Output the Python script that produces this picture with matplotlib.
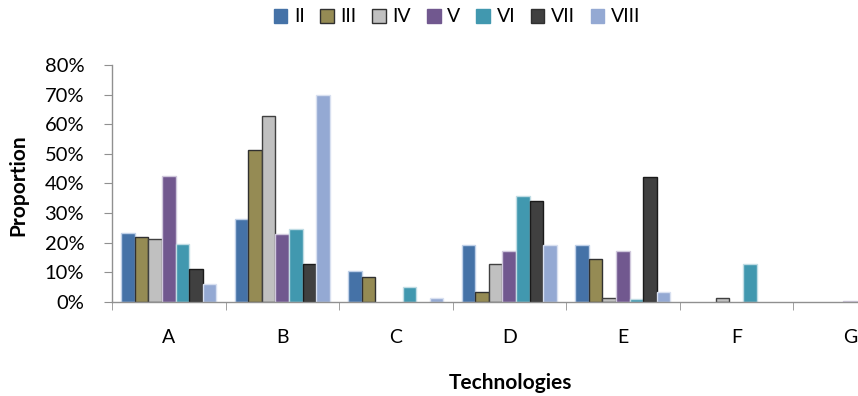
import matplotlib
matplotlib.use("Agg")
import matplotlib.pyplot as plt
import numpy as np
from matplotlib.ticker import PercentFormatter
from matplotlib.patches import Patch

plt.rcParams['font.family'] = ['Lato', 'DejaVu Sans']

categories = ['A', 'B', 'C', 'D', 'E', 'F', 'G']
series_names = ['II', 'III', 'IV', 'V', 'VI', 'VII', 'VIII']
II   = [23.1, 28.0, 10.5, 19.0, 19.0, 0.0, 0.0]
III  = [22.0, 51.3, 8.5, 3.2, 14.4, 0.0, 0.0]
IV   = [21.1, 62.7, 0.0, 12.6, 1.4, 1.4, 0.0]
V    = [42.6, 22.8, 0.0, 17.2, 17.2, 0.0, 0.4]
VI   = [19.4, 24.7, 5.1, 35.6, 0.8, 12.7, 0.0]
VII  = [11.0, 12.6, 0.0, 34.0, 42.2, 0.0, 0.0]
VIII = [5.9, 70.0, 1.4, 19.0, 3.4, 0.0, 0.0]
series = [II, III, IV, V, VI, VII, VIII]

colors = ['#4572A7', '#958B54', '#C0C0C0', '#71588F', '#4198AF', '#404040', '#94A9D3']
edges = ['#BFD0E8', '#303030', '#404040', '#D0C8DC', '#C0DCE4', '#1A1A1A', '#D8E0F0']

fig = plt.figure(figsize=(8.58, 3.96), dpi=100)
ax = fig.add_axes([112/858, (396-301.7)/396, 1 - 112/858, (301.7-65)/396])

x = np.arange(len(categories))
w = 0.119
for i, (vals, c, e) in enumerate(zip(series, colors, edges)):
    pos = x + (i - 3) * w
    v = np.array(vals) / 100.0
    mask = v > 0
    ax.bar(pos[mask], v[mask], width=w, color=c, edgecolor=e, linewidth=1.0, label=series_names[i])

ax.set_yticks(np.arange(0, 0.81, 0.1))
ax.yaxis.set_major_formatter(PercentFormatter(1.0, decimals=0))
cat_w = 113.5
ax.set_xticks(x)
ax.set_xticklabels(categories)
ax.set_xticks(np.arange(-0.5, 7.0, 1.0), minor=True)
ax.set_ylim(0, 0.8)
ax.set_xlim(-0.5, -0.5 + (858 - 112) / cat_w)
ax.tick_params(axis='x', which='major', length=0, pad=20, labelsize=14)
ax.tick_params(axis='x', which='minor', length=6, color='#909090', direction='out')
ax.tick_params(axis='y', which='major', length=6, color='#909090', direction='out', labelsize=14.5, pad=14)
for s in ['top', 'right']:
    ax.spines[s].set_visible(False)
for s in ['left', 'bottom']:
    ax.spines[s].set_color('#909090')
    ax.spines[s].set_linewidth(1.0)

fig.text(18/858, 1 - 185/396, 'Proportion', fontsize=15, fontweight='bold', ha='center', va='center', rotation=90)
fig.text(510/858, 1 - 383/396, 'Technologies', fontsize=15, fontweight='bold', ha='center', va='center')

handles = [Patch(facecolor=c, edgecolor=('#303030' if n in ('III', 'IV', 'VII') else c), label=n)
           for n, c in zip(series_names, colors)]
fig.legend(handles=handles, loc='center', bbox_to_anchor=(457/858, 1 - 17/396), ncol=7,
           frameon=False, fontsize=14, handlelength=0.7, handleheight=0.7,
           handletextpad=0.35, columnspacing=0.8)

fig.savefig('out.png', dpi=100)
